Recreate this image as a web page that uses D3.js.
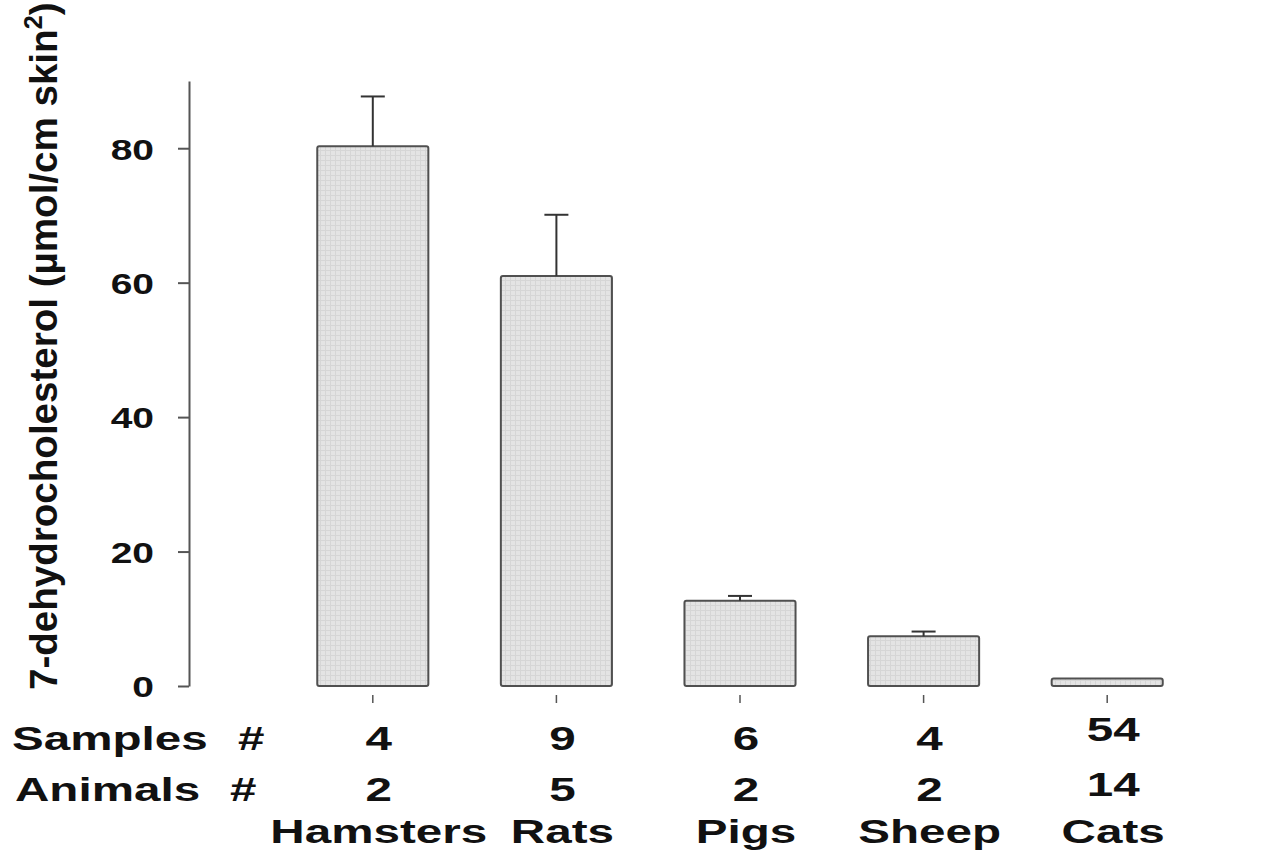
<!DOCTYPE html>
<html>
<head>
<meta charset="utf-8">
<script src="https://cdn.jsdelivr.net/npm/d3@7"></script>
<style>
  body { margin: 0; background: #fff; }
  text { font-family: "Liberation Sans", Arial, sans-serif; font-weight: bold; fill: #111; }
</style>
</head>
<body>
<div id="chart"></div>
<script>
// values
var categories = ["Hamsters", "Rats", "Pigs", "Sheep", "Cats"];
var means = [80.3, 61.0, 12.7, 7.4, 1.1];
var errors = [7.4, 9.1, 0.7, 0.7, 0.1];
var samples = ["4", "9", "6", "4", "54"];
var animals = ["2", "5", "2", "2", "14"];
var yTicks = [0, 20, 40, 60, 80];

function drawBarChart() {
    var width = 1285, height = 851;

    var svg = d3.select("#chart").append("svg")
        .attr("width", width)
        .attr("height", height);

    svg.append("rect").attr("width", width).attr("height", height).attr("fill", "#fff");

    // faint grid texture like the scanned fill
    var pat = svg.append("defs").append("pattern")
        .attr("id", "fillTex")
        .attr("width", 5).attr("height", 5)
        .attr("patternUnits", "userSpaceOnUse");
    pat.append("rect").attr("width", 5).attr("height", 5).attr("fill", "#e4e4e4");
    pat.append("path").attr("d", "M0,0.5H5M0.5,0V5").attr("stroke", "#d6d6d6").attr("stroke-width", 1);

    var y = d3.scaleLinear().domain([0, 90]).range([686, 81]);
    var x = d3.scaleBand().domain(categories)
        .range([281, 1199])
        .paddingInner(0.395)
        .paddingOuter(0.1975);

    var data = categories.map(function(c, i) {
        return { name: c, mean: means[i], err: errors[i], samples: samples[i], animals: animals[i] };
    });

    // y axis
    var yAxis = svg.append("g")
        .attr("transform", "translate(189,0)")
        .call(d3.axisLeft(y).tickValues(yTicks).tickSize(11).tickSizeOuter(0));
    yAxis.select(".domain").attr("stroke", "#555").attr("stroke-width", 2);
    yAxis.selectAll(".tick line").attr("stroke", "#555").attr("stroke-width", 2);
    yAxis.selectAll(".tick text")
        .attr("x", null)
        .attr("dy", "0.36em")
        .attr("fill", "#111")
        .style("font-size", "30px")
        .style("font-family", "'Liberation Sans', Arial, sans-serif")
        .style("font-weight", "bold")
        .attr("text-anchor", "end")
        .attr("transform", "translate(-35,0) scale(1.3,1)");

    // x axis, offset below the zero line
    var xAxis = svg.append("g")
        .attr("transform", "translate(0,695)")
        .call(d3.axisBottom(x).tickSize(8).tickSizeOuter(0).tickFormat(""));
    xAxis.select(".domain").remove();
    xAxis.selectAll(".tick line").attr("stroke", "#555").attr("stroke-width", 1.5);
    xAxis.append("path")
        .attr("d", "M189,703V695H" + width)
        .attr("fill", "none")
        .attr("stroke", "#555")
        .attr("stroke-width", 2.5);

    // bars
    svg.selectAll("rect.bar")
        .data(data)
        .enter()
            .append("rect")
        .attr("class", "bar")
        .attr("x", function(d) { return x(d.name); })
        .attr("width", x.bandwidth())
        .attr("y", function(d) { return y(d.mean); })
        .attr("height", function(d) { return y(0) - y(d.mean); })
        .attr("rx", 2)
        .attr("fill", "url(#fillTex)")
        .attr("stroke", "#505050")
        .attr("stroke-width", 2);

    // error bars (upper only)
    var cap = 12;
    var eb = svg.selectAll("g.err")
        .data(data.filter(function(d) { return d.err > 0.15; }))
        .enter().append("g")
        .attr("class", "err")
        .attr("stroke", "#333")
        .attr("stroke-width", 2);
    eb.append("line")
        .attr("x1", function(d) { return x(d.name) + x.bandwidth() / 2; })
        .attr("x2", function(d) { return x(d.name) + x.bandwidth() / 2; })
        .attr("y1", function(d) { return y(d.mean); })
        .attr("y2", function(d) { return y(d.mean + d.err); });
    eb.append("line")
        .attr("x1", function(d) { return x(d.name) + x.bandwidth() / 2 - cap; })
        .attr("x2", function(d) { return x(d.name) + x.bandwidth() / 2 + cap; })
        .attr("y1", function(d) { return y(d.mean + d.err); })
        .attr("y2", function(d) { return y(d.mean + d.err); });

    // stretched bold text helper
    function label(px, py, str, anchor) {
        var g = svg.append("g").attr("transform", "translate(" + px + "," + py + ") scale(1.4,1)");
        g.append("text")
            .attr("text-anchor", anchor)
            .style("font-size", "34px")
            .text(str);
        return g;
    }

    label(12, 750, "Samples", "start");
    label(238, 750, "#", "start");
    label(15, 801, "Animals", "start");
    label(230, 801, "#", "start");

    data.forEach(function(d) {
        var cx = x(d.name) + x.bandwidth() / 2 + 6;
        var lift = d.name === "Cats" ? -9 : 0;
        label(cx, 750 + lift, d.samples, "middle");
        label(cx, 801 + lift * 0.6, d.animals, "middle");
        label(cx, 843, d.name, "middle");
    });

    // y axis title, rotated
    var tg = svg.append("g").attr("transform", "translate(57,690) rotate(-90)");
    var title = tg.append("text")
        .attr("text-anchor", "start")
        .style("font-size", "38px");
    title.append("tspan").text("7-dehydrocholesterol (\u00b5mol/cm skin");
    title.append("tspan").attr("dy", -15).style("font-size", "25px").text("2");
    title.append("tspan").attr("dy", 15).text(")");
    var w = title.node().getComputedTextLength();
    title.attr("transform", "scale(" + (688 / w) + ",1)");
}

drawBarChart();
</script>
</body>
</html>
